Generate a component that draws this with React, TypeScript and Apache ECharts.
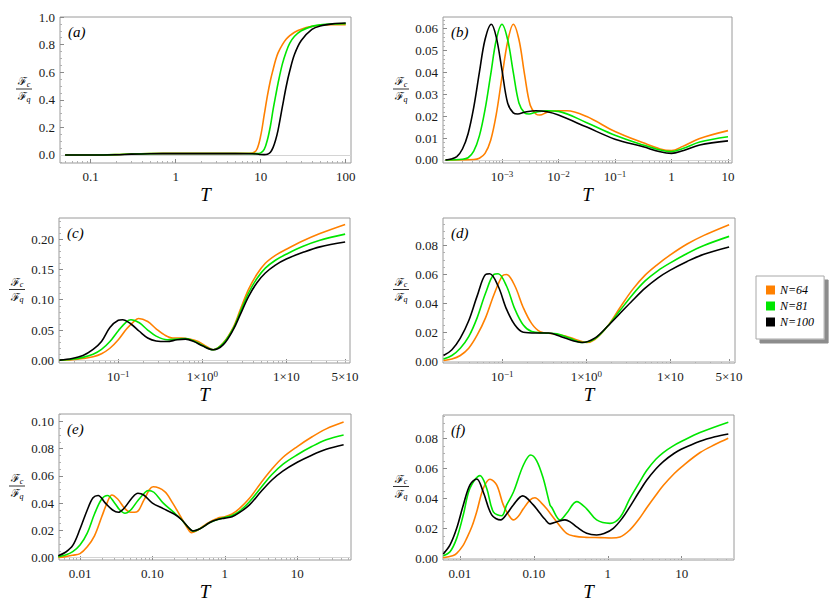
import React, { useEffect, useRef } from "react";
import * as echarts from "echarts";

// ---------- data (x values are log10 T) ----------
const SERIES_NAMES = ["N=64", "N=81", "N=100"];
const COLORS = ["#ff8000", "#00e600", "#000000"];

// panel (a)
const aLogT = [-1.301, -1, -0.699, -0.523, -0.301, 0, 0.301, 0.699, 0.903, 0.954, 1, 1.041, 1.079, 1.114, 1.146, 1.176, 1.204, 1.255, 1.301, 1.342, 1.398, 1.477, 1.602, 1.699, 1.845, 2];
const aN64 = [0, 0, 0.003, 0.008, 0.011, 0.012, 0.012, 0.012, 0.015, 0.04, 0.14, 0.29, 0.43, 0.54, 0.62, 0.69, 0.74, 0.8, 0.84, 0.865, 0.89, 0.912, 0.932, 0.94, 0.944, 0.945];
const aN81 = [0, 0, 0.003, 0.007, 0.01, 0.011, 0.011, 0.011, 0.01, 0.01, 0.015, 0.04, 0.11, 0.21, 0.33, 0.43, 0.52, 0.66, 0.75, 0.81, 0.86, 0.9, 0.932, 0.943, 0.95, 0.952];
const aN100 = [0, 0, 0.002, 0.006, 0.009, 0.01, 0.01, 0.01, 0.009, 0.007, 0.004, 0.003, 0.006, 0.02, 0.055, 0.11, 0.18, 0.35, 0.5, 0.61, 0.73, 0.83, 0.91, 0.935, 0.95, 0.956];

// panel (b)
const bLogT64 = [-4.0, -3.5, -3.4, -3.3, -3.2, -3.1, -3.0, -2.9, -2.8, -2.7, -2.6, -2.5, -2.4, -2.33, -2.2, -2.05, -1.85, -1.5, -1.0, -0.5, -0.2, 0.0, 0.2, 0.5, 1.0];
const bN64 = [0, 0.0002, 0.0008, 0.003, 0.009, 0.021, 0.038, 0.054, 0.062, 0.055, 0.039, 0.025, 0.021, 0.0205, 0.0218, 0.0225, 0.0225, 0.0198, 0.013, 0.0078, 0.005, 0.0043, 0.0062, 0.0098, 0.0134];
const bLogT81 = [-4.0, -3.7, -3.6, -3.5, -3.4, -3.3, -3.2, -3.1, -3.0, -2.9, -2.8, -2.7, -2.6, -2.52, -2.4, -2.2, -2.0, -1.5, -1.0, -0.5, -0.2, 0.0, 0.2, 0.5, 1.0];
const bN81 = [0, 0.0003, 0.001, 0.004, 0.011, 0.023, 0.039, 0.055, 0.062, 0.055, 0.04, 0.026, 0.0215, 0.021, 0.0218, 0.0225, 0.0222, 0.017, 0.0113, 0.0068, 0.0045, 0.0038, 0.0052, 0.0082, 0.0106];
const bLogT100 = [-4.0, -3.9, -3.8, -3.7, -3.6, -3.5, -3.4, -3.3, -3.19, -3.1, -3.0, -2.9, -2.8, -2.72, -2.6, -2.4, -2.2, -2.0, -1.5, -1.0, -0.5, -0.2, 0.0, 0.2, 0.5, 1.0];
const bN100 = [0, 0.0004, 0.0015, 0.005, 0.012, 0.024, 0.04, 0.055, 0.062, 0.056, 0.041, 0.026, 0.0215, 0.021, 0.0218, 0.0225, 0.022, 0.0205, 0.015, 0.0095, 0.006, 0.0037, 0.003, 0.0042, 0.0068, 0.0087];

// panel (c)
const cLogT64 = [-1.7, -1.55, -1.42, -1.3, -1.2, -1.1, -1.0, -0.9, -0.8, -0.76, -0.65, -0.55, -0.45, -0.35, -0.25, -0.15, -0.05, 0.05, 0.13, 0.25, 0.37, 0.45, 0.55, 0.65, 0.75, 0.87, 1.0, 1.2, 1.4, 1.7];
const cN64 = [0.0002, 0.001, 0.003, 0.006, 0.011, 0.02, 0.034, 0.052, 0.066, 0.069, 0.064, 0.052, 0.042, 0.037, 0.037, 0.035, 0.031, 0.023, 0.0176, 0.029, 0.055, 0.083, 0.117, 0.142, 0.16, 0.173, 0.183, 0.197, 0.209, 0.224];
const cLogT81 = [-1.7, -1.55, -1.42, -1.3, -1.2, -1.1, -1.0, -0.9, -0.85, -0.75, -0.65, -0.55, -0.42, -0.3, -0.2, -0.1, 0.0, 0.13, 0.25, 0.37, 0.45, 0.55, 0.65, 0.75, 0.87, 1.0, 1.2, 1.4, 1.7];
const cN81 = [0.0003, 0.002, 0.005, 0.01, 0.018, 0.031, 0.049, 0.064, 0.067, 0.062, 0.05, 0.04, 0.034, 0.035, 0.036, 0.032, 0.025, 0.0176, 0.028, 0.053, 0.079, 0.111, 0.135, 0.152, 0.165, 0.175, 0.188, 0.198, 0.208];
const cLogT100 = [-1.7, -1.55, -1.42, -1.3, -1.2, -1.1, -1.0, -0.95, -0.85, -0.75, -0.65, -0.55, -0.42, -0.3, -0.2, -0.1, 0.0, 0.13, 0.25, 0.37, 0.45, 0.55, 0.65, 0.75, 0.87, 1.0, 1.2, 1.4, 1.7];
const cN100 = [0.0005, 0.003, 0.008, 0.018, 0.031, 0.054, 0.066, 0.067, 0.06, 0.048, 0.037, 0.032, 0.031, 0.034, 0.035, 0.031, 0.024, 0.0176, 0.026, 0.051, 0.075, 0.105, 0.128, 0.144, 0.157, 0.167, 0.178, 0.187, 0.195];

// panel (d)
const dLogT64 = [-1.7, -1.6, -1.5, -1.4, -1.3, -1.2, -1.1, -1.0, -0.95, -0.85, -0.75, -0.65, -0.55, -0.4, -0.25, -0.1, 0.0, 0.1, 0.25, 0.4, 0.55, 0.7, 0.85, 1.0, 1.2, 1.4, 1.7];
const dN64 = [0.0005, 0.0015, 0.004, 0.009, 0.018, 0.03, 0.046, 0.059, 0.06, 0.052, 0.037, 0.026, 0.0205, 0.019, 0.0175, 0.0145, 0.013, 0.015, 0.024, 0.037, 0.0495, 0.0595, 0.067, 0.0735, 0.081, 0.087, 0.0944];
const dLogT81 = [-1.7, -1.6, -1.5, -1.4, -1.3, -1.2, -1.1, -1.05, -0.95, -0.85, -0.75, -0.65, -0.5, -0.35, -0.2, -0.05, 0.1, 0.25, 0.4, 0.55, 0.7, 0.85, 1.0, 1.2, 1.4, 1.7];
const dN81 = [0.0016, 0.004, 0.009, 0.017, 0.03, 0.047, 0.06, 0.0605, 0.052, 0.036, 0.025, 0.0205, 0.0195, 0.019, 0.016, 0.013, 0.0155, 0.024, 0.035, 0.046, 0.0555, 0.0625, 0.068, 0.0745, 0.08, 0.0863];
const dLogT100 = [-1.7, -1.6, -1.5, -1.4, -1.3, -1.2, -1.15, -1.05, -0.95, -0.85, -0.75, -0.6, -0.45, -0.3, -0.15, -0.05, 0.1, 0.25, 0.4, 0.55, 0.7, 0.85, 1.0, 1.2, 1.4, 1.7];
const dN100 = [0.004, 0.008, 0.016, 0.028, 0.045, 0.06, 0.0605, 0.052, 0.036, 0.025, 0.02, 0.0195, 0.0195, 0.017, 0.014, 0.013, 0.016, 0.024, 0.033, 0.042, 0.0505, 0.0575, 0.063, 0.069, 0.074, 0.079];

// panel (e)
const eLogT64 = [-2.3, -2.2, -2.1, -2.0, -1.9, -1.8, -1.7, -1.62, -1.56, -1.48, -1.38, -1.3, -1.22, -1.12, -1.04, -0.99, -0.83, -0.72, -0.62, -0.52, -0.46, -0.38, -0.25, -0.1, 0.0, 0.1, 0.2, 0.34, 0.5, 0.65, 0.8, 1.0, 1.2, 1.4, 1.64];
const eN64 = [0.0002, 0.0008, 0.0018, 0.003, 0.008, 0.016, 0.03, 0.041, 0.046, 0.043, 0.036, 0.0333, 0.0335, 0.042, 0.05, 0.052, 0.0485, 0.04, 0.031, 0.022, 0.0184, 0.02, 0.025, 0.029, 0.03, 0.032, 0.036, 0.0436, 0.055, 0.065, 0.0735, 0.0815, 0.0885, 0.0945, 0.0995];
const eLogT81 = [-2.3, -2.2, -2.1, -2.0, -1.9, -1.8, -1.7, -1.62, -1.52, -1.45, -1.38, -1.3, -1.2, -1.1, -1.06, -0.98, -0.85, -0.7, -0.6, -0.5, -0.44, -0.35, -0.2, -0.1, 0.0, 0.1, 0.2, 0.34, 0.5, 0.65, 0.8, 1.0, 1.2, 1.4, 1.64];
const eN81 = [0.0008, 0.002, 0.0045, 0.0093, 0.018, 0.032, 0.043, 0.0456, 0.04, 0.035, 0.0326, 0.035, 0.042, 0.048, 0.0493, 0.048, 0.04, 0.033, 0.028, 0.022, 0.0194, 0.021, 0.026, 0.028, 0.0295, 0.031, 0.034, 0.041, 0.0515, 0.061, 0.0685, 0.0755, 0.0815, 0.0865, 0.09];
const eLogT100 = [-2.3, -2.2, -2.1, -2.0, -1.9, -1.82, -1.75, -1.65, -1.55, -1.47, -1.38, -1.28, -1.2, -1.12, -1.0, -0.85, -0.7, -0.6, -0.5, -0.44, -0.35, -0.2, -0.1, 0.0, 0.1, 0.2, 0.34, 0.5, 0.65, 0.8, 1.0, 1.2, 1.4, 1.64];
const eN100 = [0.0015, 0.004, 0.009, 0.021, 0.035, 0.044, 0.0456, 0.04, 0.035, 0.0333, 0.037, 0.044, 0.0473, 0.046, 0.04, 0.036, 0.032, 0.028, 0.022, 0.0196, 0.021, 0.026, 0.028, 0.029, 0.03, 0.033, 0.0387, 0.0485, 0.057, 0.0635, 0.07, 0.0752, 0.0795, 0.0828];

// panel (f)
const fLogT64 = [-2.23, -2.1, -2.045, -1.96, -1.91, -1.84, -1.774, -1.684, -1.594, -1.504, -1.414, -1.33, -1.278, -1.21, -1.143, -1.05, -0.985, -0.9, -0.827, -0.692, -0.557, -0.45, -0.3, -0.1, 0.05, 0.165, 0.3, 0.42, 0.525, 0.65, 0.75, 0.9, 1.0, 1.25, 1.45, 1.63];
const fN64 = [0.0004, 0.0018, 0.0033, 0.0085, 0.0133, 0.021, 0.031, 0.0467, 0.0527, 0.049, 0.0356, 0.028, 0.0256, 0.028, 0.033, 0.039, 0.0404, 0.037, 0.033, 0.0244, 0.0167, 0.0148, 0.014, 0.0138, 0.0136, 0.0142, 0.019, 0.026, 0.0335, 0.042, 0.0485, 0.0565, 0.061, 0.0705, 0.0758, 0.08];
const fLogT81 = [-2.226, -2.135, -2.045, -1.955, -1.865, -1.729, -1.639, -1.549, -1.436, -1.368, -1.278, -1.143, -1.044, -0.962, -0.872, -0.782, -0.76, -0.647, -0.557, -0.421, -0.286, -0.151, 0.03, 0.165, 0.3, 0.42, 0.526, 0.65, 0.751, 0.88, 1.0, 1.248, 1.631];
const fN81 = [0.0018, 0.0044, 0.0133, 0.029, 0.0467, 0.0551, 0.0467, 0.031, 0.0284, 0.0356, 0.044, 0.062, 0.0689, 0.065, 0.053, 0.0356, 0.034, 0.0256, 0.03, 0.0378, 0.033, 0.0256, 0.0233, 0.0272, 0.04, 0.05, 0.0585, 0.066, 0.0705, 0.0748, 0.078, 0.0838, 0.0907];
const fLogT100 = [-2.226, -2.135, -2.045, -1.955, -1.865, -1.774, -1.684, -1.571, -1.45, -1.36, -1.278, -1.152, -1.008, -0.917, -0.85, -0.782, -0.68, -0.579, -0.5, -0.421, -0.286, -0.151, -0.05, 0.075, 0.2, 0.3, 0.42, 0.526, 0.65, 0.751, 0.9, 1.0, 1.248, 1.45, 1.631];
const fN100 = [0.0029, 0.0089, 0.02, 0.0356, 0.049, 0.0529, 0.044, 0.029, 0.0256, 0.03, 0.0356, 0.0416, 0.0356, 0.03, 0.026, 0.023, 0.0245, 0.0256, 0.024, 0.021, 0.0167, 0.0156, 0.0165, 0.02, 0.027, 0.0345, 0.044, 0.052, 0.0595, 0.0645, 0.07, 0.0728, 0.078, 0.081, 0.0829];

// tick positions (log10 T) and labels
const aXTickPos = [-1, 0, 1, 2];
const aXTickLabels = ["0.1", "1", "10", "100"];
const bXTickPos = [-3, -2, -1, 0, 1];
const bXTickLabels = ["10{sup|−3}", "10{sup|−2}", "10{sup|−1}", "1", "10"];
const cdXTickPos = [-1, 0, 1, 1.69897];
const cdXTickLabels = ["10{sup|−1}", "1×10{sup|0}", "1×10", "5×10"];
const efXTickPos = [-2, -1, 0, 1];
const efXTickLabels = ["0.01", "0.10", "1", "10"];

const aYTicks = [0, 0.2, 0.4, 0.6, 0.8, 1.0];
const bYTicks = [0, 0.01, 0.02, 0.03, 0.04, 0.05, 0.06];
const cYTicks = [0, 0.05, 0.1, 0.15, 0.2];
const dYTicks = [0, 0.02, 0.04, 0.06, 0.08];
const eYTicks = [0, 0.02, 0.04, 0.06, 0.08, 0.1];
const fYTicks = [0, 0.02, 0.04, 0.06, 0.08];

const PANELS = [
  { letter: "a", xs: [aLogT, aLogT, aLogT], ys: [aN64, aN81, aN100], xTicks: aXTickPos, xLabels: aXTickLabels, yTicks: aYTicks, yMinorStep: 0.05, digits: 1 },
  { letter: "b", xs: [bLogT64, bLogT81, bLogT100], ys: [bN64, bN81, bN100], xTicks: bXTickPos, xLabels: bXTickLabels, yTicks: bYTicks, yMinorStep: 0.002, digits: 2 },
  { letter: "c", xs: [cLogT64, cLogT81, cLogT100], ys: [cN64, cN81, cN100], xTicks: cdXTickPos, xLabels: cdXTickLabels, yTicks: cYTicks, yMinorStep: 0.01, digits: 2 },
  { letter: "d", xs: [dLogT64, dLogT81, dLogT100], ys: [dN64, dN81, dN100], xTicks: cdXTickPos, xLabels: cdXTickLabels, yTicks: dYTicks, yMinorStep: 0.005, digits: 2 },
  { letter: "e", xs: [eLogT64, eLogT81, eLogT100], ys: [eN64, eN81, eN100], xTicks: efXTickPos, xLabels: efXTickLabels, yTicks: eYTicks, yMinorStep: 0.005, digits: 2 },
  { letter: "f", xs: [fLogT64, fLogT81, fLogT100], ys: [fN64, fN81, fN100], xTicks: efXTickPos, xLabels: efXTickLabels, yTicks: fYTicks, yMinorStep: 0.005, digits: 2 },
];

// ---------- layout ----------
const GRIDS = [
  { left: 60, top: 17, width: 291, height: 146 },
  { left: 443, top: 17, width: 289, height: 146 },
  { left: 59, top: 218, width: 291, height: 145 },
  { left: 443, top: 218, width: 292, height: 145 },
  { left: 59, top: 414, width: 292, height: 146 },
  { left: 443, top: 415, width: 291, height: 145 },
];
const X_RANGES = [[-1.361, 2.062], [-4.044, 1.071], [-1.706, 1.758], [-1.706, 1.77], [-2.29, 1.742], [-2.23, 1.708]];
const Y_RANGES = [[-0.058, 1.0], [-0.0014, 0.0653], [-0.0043, 0.2346], [-0.0012, 0.099], [-0.0017, 0.1054], [-0.0011, 0.0955]];
const NAME_GAPS = [19, 19, 17, 17, 15, 15];
const FRAC_DX = [36, 42, 42, 42, 42, 42];

const SERIF = "Liberation Serif";
const FRAME = "#9a9a9a";
const TICK = "#8a8a8a";

function labelFor(pos: number[], labels: string[], v: number) {
  const i = pos.findIndex((p) => Math.abs(p - v) < 1e-6);
  return i >= 0 ? labels[i] : "";
}

function buildOption() {
  const grid: any[] = [];
  const xAxis: any[] = [];
  const yAxis: any[] = [];
  const series: any[] = [];
  const elements: any[] = [];
  const fracRich = {
    f: { fontFamily: "DejaVu Serif", fontSize: 11, lineHeight: 13, fill: "#000", color: "#000" },
    s: { fontFamily: SERIF, fontStyle: "italic", fontSize: 8, lineHeight: 8, verticalAlign: "bottom", color: "#000", fill: "#000" },
  };

  PANELS.forEach((p, i) => {
    const g = GRIDS[i];
    const [x0, x1] = X_RANGES[i];
    const [y0, y1] = Y_RANGES[i];
    grid.push({ ...g, show: true, borderColor: FRAME, borderWidth: 1, backgroundColor: "transparent" });

    const xMinor: number[] = [];
    for (let n = Math.floor(x0); n <= Math.ceil(x1); n++) {
      for (let k = 2; k <= 9; k++) {
        const v = n + Math.log10(k);
        if (v > x0 && v < x1) xMinor.push(v);
      }
    }
    const yMinor: number[] = [];
    const ms = p.yMinorStep;
    for (let j = Math.ceil(y0 / ms); j * ms <= y1 + 1e-12; j++) {
      const v = +(j * ms).toFixed(6);
      if (!p.yTicks.some((t) => Math.abs(t - v) < 1e-9)) yMinor.push(v);
    }

    xAxis.push({
      type: "value", gridIndex: i, min: x0, max: x1, position: "bottom",
      axisLine: { show: false, onZero: false },
      axisTick: { show: true, inside: true, length: 4, customValues: p.xTicks, lineStyle: { color: TICK } },
      axisLabel: {
        customValues: p.xTicks, margin: 6, fontFamily: SERIF, fontSize: 13, lineHeight: 15, color: "#1a1a1a",
        formatter: (v: number) => labelFor(p.xTicks, p.xLabels, v),
        rich: { sup: { fontFamily: SERIF, fontSize: 9, lineHeight: 9, verticalAlign: "top", color: "#1a1a1a" } },
      },
      splitLine: { show: false },
      name: "T", nameLocation: "middle", nameGap: NAME_GAPS[i],
      nameTextStyle: { fontFamily: SERIF, fontStyle: "italic", fontSize: 19, color: "#000" },
    });
    xAxis.push({
      type: "value", gridIndex: i, min: x0, max: x1, position: "bottom",
      axisLine: { show: false, onZero: false },
      axisTick: { show: true, inside: true, length: 2, customValues: xMinor, lineStyle: { color: "#b0b0b0" } },
      axisLabel: { show: false }, splitLine: { show: false },
    });
    yAxis.push({
      type: "value", gridIndex: i, min: y0, max: y1, position: "left",
      axisLine: { show: false, onZero: false },
      axisTick: { show: true, inside: true, length: 4, customValues: p.yTicks, lineStyle: { color: TICK } },
      axisLabel: {
        customValues: p.yTicks, margin: 5, fontFamily: SERIF, fontSize: 13, color: "#1a1a1a",
        formatter: (v: number) => v.toFixed(p.digits),
      },
      splitLine: { show: false },
    });
    yAxis.push({
      type: "value", gridIndex: i, min: y0, max: y1, position: "left",
      axisLine: { show: false, onZero: false },
      axisTick: { show: true, inside: true, length: 2, customValues: yMinor, lineStyle: { color: "#b0b0b0" } },
      axisLabel: { show: false }, splitLine: { show: false },
    });

    p.ys.forEach((vals, s) => {
      const xs = p.xs[s];
      series.push({
        type: "line", name: SERIES_NAMES[s], xAxisIndex: 2 * i, yAxisIndex: 2 * i,
        data: xs.map((x, k) => [x, vals[k]]),
        showSymbol: false, symbol: "none", smooth: 0.35, color: COLORS[s],
        itemStyle: { color: COLORS[s] },
        lineStyle: { color: COLORS[s], width: 1.6 },
        z: 3 + s,
        ...(s === 0
          ? {
              markLine: {
                silent: true, symbol: "none", z: 1, animation: false,
                label: { show: false },
                lineStyle: { color: "#d4d4d4", width: 1, type: "solid" },
                data: [{ yAxis: 0 }],
              },
            }
          : {}),
      });
    });

    elements.push({
      type: "text", x: g.left + 8, y: g.top + 15,
      style: { text: `(${p.letter})`, fontFamily: SERIF, fontStyle: "italic", fontSize: 15, fill: "#000", align: "left", verticalAlign: "middle" },
    });
    elements.push({
      type: "group", x: g.left - FRAC_DX[i], y: g.top + g.height / 2 - 1,
      children: [
        { type: "text", x: 0, y: -1, style: { text: "{f|ℱ}{s|c}", rich: fracRich, align: "center", verticalAlign: "bottom", fill: "#000" } },
        { type: "line", shape: { x1: -8, y1: 0, x2: 8, y2: 0 }, style: { stroke: "#000", lineWidth: 0.8 } },
        { type: "text", x: 0, y: 1, style: { text: "{f|ℱ}{s|q}", rich: fracRich, align: "center", verticalAlign: "top", fill: "#000" } },
      ],
    });
  });

  return {
    animation: false,
    backgroundColor: "#ffffff",
    textStyle: { fontFamily: SERIF },
    grid, xAxis, yAxis, series,
    legend: {
      data: SERIES_NAMES, orient: "vertical", left: 756, top: 276,
      icon: "rect", itemWidth: 9, itemHeight: 9, itemGap: 4,
      padding: [8, 10, 11, 10],
      backgroundColor: "#ffffff", borderColor: "#a8a8a8", borderWidth: 1,
      shadowColor: "rgba(0,0,0,0.45)", shadowOffsetX: 4, shadowOffsetY: 4, shadowBlur: 1,
      selectedMode: false,
      textStyle: { fontFamily: SERIF, fontStyle: "italic", fontSize: 12, color: "#000" },
    },
    graphic: { elements },
  };
}

export default function App() {
  const ref = useRef<HTMLDivElement>(null);
  useEffect(() => {
    if (!ref.current) return;
    const chart = echarts.init(ref.current, undefined, { renderer: "svg" });
    chart.setOption(buildOption() as any);
    return () => chart.dispose();
  }, []);
  return (
    <div
      ref={ref}
      style={{ position: "absolute", left: 0, top: 0, width: 831, height: 613, background: "#fff" }}
    />
  );
}
